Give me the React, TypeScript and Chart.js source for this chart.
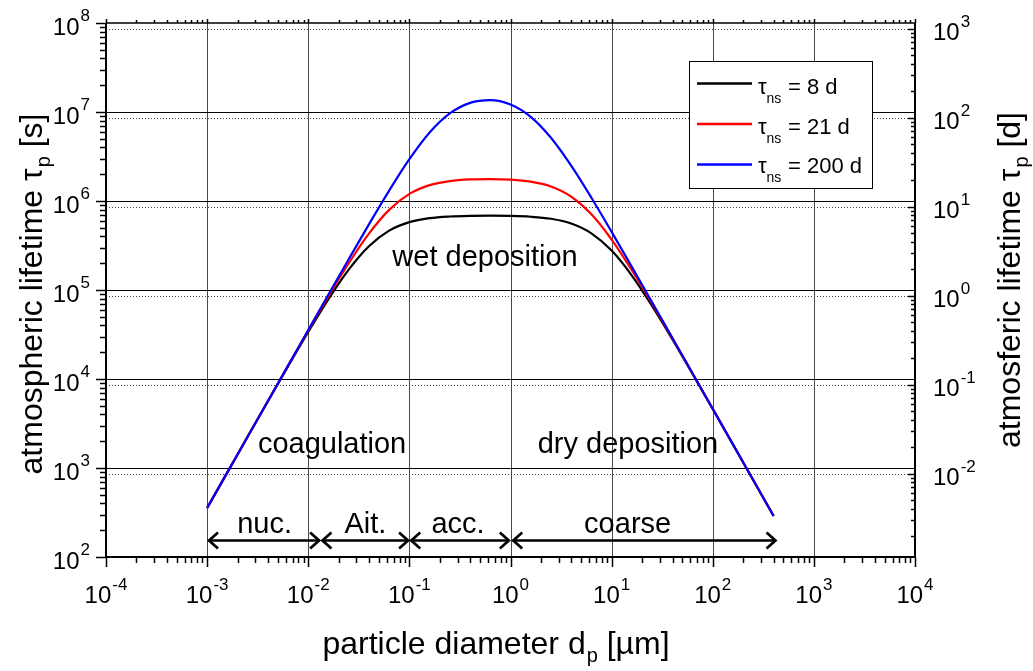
import React, { useEffect, useRef } from 'react';
import { Chart, registerables } from 'chart.js';

Chart.register(...registerables);

// particle diameter (µm)
const diameters = [
  0.001, 0.001585, 0.002512, 0.003981, 0.00631, 0.01, 0.01585, 0.02512, 0.03981, 0.0631,
  0.1, 0.1585, 0.2512, 0.3981, 0.631, 1, 1.585, 2.512, 3.981, 6.31,
  10, 15.85, 25.12, 39.81, 63.1, 100, 158.5, 251.2, 400,
];
// atmospheric lifetime (s), tau_ns = 8 d
const lifetime8d = [
  356, 892, 2237, 5591, 13874, 33820, 79110, 169400, 310460, 464450,
  578700, 641560, 669930, 681200, 683760, 679720, 665650, 631430, 558780, 433310,
  277050, 145350, 66257, 27990, 11422, 4593, 1836, 732, 289,
];
// tau_ns = 21 d
const lifetime21d = [
  356, 893, 2241, 5620, 14049, 34880, 85140, 199720, 430030, 795290,
  1201500, 1508300, 1675000, 1747400, 1764300, 1737600, 1648700, 1453500, 1118700, 708170,
  368490, 167110, 70437, 28710, 11541, 4612, 1840, 733, 289,
];
// tau_ns = 200 d
const lifetime200d = [
  356, 893, 2244, 5635, 14147, 35490, 88870, 221530, 545790, 1308600,
  2949000, 5889000, 9633000, 12652000, 13598000, 12149000, 8825000, 5134000, 2495700, 1088300,
  450330, 182120, 72971, 29122, 11606, 4623, 1841, 733, 289,
];
const seriesValues = [lifetime8d, lifetime21d, lifetime200d];
const seriesLabels = ['8 d', '21 d', '200 d'];
const seriesColors = ['#000000', '#ff0000', '#0000ff'];

// axis decades (exponents)
const xExponents = [-4, -3, -2, -1, 0, 1, 2, 3, 4];
const secondsExponents = [2, 3, 4, 5, 6, 7, 8];
const dayExponents = [-2, -1, 0, 1, 2, 3];
const SECONDS_PER_DAY = 86400;

// size-mode ranges (µm)
const modeLabels = ['nuc.', 'Ait.', 'acc.', 'coarse'];
const modeStart = [0.00102, 0.0135, 0.102, 1.04];
const modeEnd = [0.0131, 0.0993, 0.985, 427];
const modeLabelX = [0.0037, 0.0368, 0.303, 14.4];
const modeArrowY = 156; // s
const modeLabelY = 186; // s

// process annotations
const processLabels = ['wet deposition', 'coagulation', 'dry deposition'];
const processX = [0.56, 0.0172, 14.5];
const processY = [184000, 1476, 1476];

const FONT = '"Liberation Sans", Arial, Helvetica, sans-serif';

function powLabel(ctx: CanvasRenderingContext2D, exp: number, x: number, baseline: number, align: 'center' | 'right' | 'left') {
  const base = '10';
  const sup = String(exp);
  ctx.font = `24px ${FONT}`;
  const wb = ctx.measureText(base).width;
  ctx.font = `17px ${FONT}`;
  const ws = ctx.measureText(sup).width;
  const total = wb + 1 + ws;
  let start = x;
  if (align === 'center') start = x - total / 2;
  else if (align === 'right') start = x - total;
  ctx.textAlign = 'left';
  ctx.textBaseline = 'alphabetic';
  ctx.font = `24px ${FONT}`;
  ctx.fillText(base, start, baseline);
  ctx.font = `17px ${FONT}`;
  ctx.fillText(sup, start + wb + 1, baseline - 13.5);
}

function drawTitle(ctx: CanvasRenderingContext2D, main: string, sub: string, tail: string, cx: number, baseline: number) {
  ctx.font = `32px ${FONT}`;
  const w1 = ctx.measureText(main).width;
  const w3 = ctx.measureText(tail).width;
  ctx.font = `20px ${FONT}`;
  const w2 = ctx.measureText(sub).width;
  const total = w1 + 1 + w2 + w3;
  let x = cx - total / 2;
  ctx.textAlign = 'left';
  ctx.textBaseline = 'alphabetic';
  ctx.font = `32px ${FONT}`;
  ctx.fillText(main, x, baseline);
  x += w1 + 1;
  ctx.font = `20px ${FONT}`;
  ctx.fillText(sub, x, baseline + 8);
  x += w2;
  ctx.font = `32px ${FONT}`;
  ctx.fillText(tail, x, baseline);
}

const gridPlugin = {
  id: 'gridPlugin',
  beforeDatasetsDraw(chart: any) {
    const { ctx, chartArea: a } = chart;
    const xs = chart.scales.x;
    const ys = chart.scales.y;
    const ds = chart.scales.y2;
    ctx.save();
    ctx.lineWidth = 1;
    ctx.strokeStyle = '#4a4a4a';
    xExponents.forEach((e) => {
      if (e <= xExponents[0] || e >= xExponents[xExponents.length - 1]) return;
      const px = Math.round(xs.getPixelForValue(Math.pow(10, e))) + 0.5;
      ctx.beginPath();
      ctx.moveTo(px, a.top);
      ctx.lineTo(px, a.bottom);
      ctx.stroke();
    });
    ctx.strokeStyle = '#000';
    secondsExponents.forEach((e) => {
      if (e <= secondsExponents[0] || e >= secondsExponents[secondsExponents.length - 1]) return;
      const py = Math.round(ys.getPixelForValue(Math.pow(10, e))) + 0.5;
      ctx.beginPath();
      ctx.moveTo(a.left, py);
      ctx.lineTo(a.right, py);
      ctx.stroke();
    });
    ctx.setLineDash([1, 2]);
    ctx.strokeStyle = '#444';
    dayExponents.forEach((e) => {
      const py = Math.round(ds.getPixelForValue(Math.pow(10, e))) + 0.5;
      ctx.beginPath();
      ctx.moveTo(a.left, py);
      ctx.lineTo(a.right, py);
      ctx.stroke();
    });
    ctx.restore();
  },
};

const decorPlugin = {
  id: 'decorPlugin',
  afterDatasetsDraw(chart: any) {
    const { ctx, chartArea: a } = chart;
    const xs = chart.scales.x;
    const ys = chart.scales.y;
    const ds = chart.scales.y2;
    ctx.save();
    ctx.fillStyle = '#000';
    ctx.strokeStyle = '#000';

    // frame
    ctx.lineWidth = 2;
    ctx.beginPath();
    ctx.moveTo(a.left, a.top);
    ctx.lineTo(a.left, a.bottom);
    ctx.lineTo(a.right, a.bottom);
    ctx.lineTo(a.right, a.top);
    ctx.stroke();
    ctx.lineWidth = 1.5;
    ctx.beginPath();
    ctx.moveTo(a.left, a.top);
    ctx.lineTo(a.right, a.top);
    ctx.stroke();

    // x ticks (bottom out, top small)
    ctx.lineWidth = 1.5;
    for (let e = xExponents[0]; e <= xExponents[xExponents.length - 1]; e++) {
      for (let m = 1; m <= 9; m++) {
        if (e === xExponents[xExponents.length - 1] && m > 1) break;
        const px = Math.round(xs.getPixelForValue(m * Math.pow(10, e))) + 0.5;
        const major = m === 1;
        ctx.beginPath();
        ctx.moveTo(px, a.bottom);
        ctx.lineTo(px, a.bottom + (major ? 10 : 6));
        ctx.moveTo(px, a.top);
        ctx.lineTo(px, a.top - (major ? 4 : 3));
        ctx.stroke();
      }
    }
    // left ticks
    for (let e = secondsExponents[0]; e <= secondsExponents[secondsExponents.length - 1]; e++) {
      for (let m = 1; m <= 9; m++) {
        if (e === secondsExponents[secondsExponents.length - 1] && m > 1) break;
        const py = Math.round(ys.getPixelForValue(m * Math.pow(10, e))) + 0.5;
        const major = m === 1;
        ctx.beginPath();
        ctx.moveTo(a.left, py);
        ctx.lineTo(a.left - (major ? 10 : 6), py);
        ctx.stroke();
      }
    }
    // right ticks (days, inward)
    const dMin = ds.min;
    const dMax = ds.max;
    for (let e = -3; e <= 3; e++) {
      for (let m = 1; m <= 9; m++) {
        const v = m * Math.pow(10, e);
        if (v < dMin || v > dMax) continue;
        const py = Math.round(ds.getPixelForValue(v)) + 0.5;
        const major = m === 1;
        ctx.beginPath();
        ctx.moveTo(a.right, py);
        ctx.lineTo(a.right - (major ? 7 : 4), py);
        ctx.stroke();
      }
    }

    // tick labels
    xExponents.forEach((e) => {
      const px = xs.getPixelForValue(Math.pow(10, e));
      powLabel(ctx, e, px, a.bottom + 46, 'center');
    });
    secondsExponents.forEach((e) => {
      const py = ys.getPixelForValue(Math.pow(10, e));
      powLabel(ctx, e, 90, py + 11.7, 'right');
    });
    dayExponents.forEach((e) => {
      const py = ds.getPixelForValue(Math.pow(10, e));
      powLabel(ctx, e, 933, py + 11.7, 'left');
    });

    // axis titles
    drawTitle(ctx, 'particle diameter d', 'p', ' [µm]', 496, 654);
    ctx.save();
    ctx.translate(42, 294);
    ctx.rotate(-Math.PI / 2);
    drawTitle(ctx, 'atmospheric lifetime τ', 'p', ' [s]', 0, 0);
    ctx.restore();
    ctx.save();
    ctx.translate(1020, 280);
    ctx.rotate(-Math.PI / 2);
    drawTitle(ctx, 'atmosferic lifetime τ', 'p', ' [d]', 0, 0);
    ctx.restore();

    // process annotations
    ctx.font = `29px ${FONT}`;
    ctx.textAlign = 'center';
    ctx.textBaseline = 'alphabetic';
    processLabels.forEach((t, i) => {
      ctx.fillText(t, xs.getPixelForValue(processX[i]), ys.getPixelForValue(processY[i]));
    });

    // size modes with arrows
    const ay = Math.round(ys.getPixelForValue(modeArrowY)) + 0.5;
    const ly = ys.getPixelForValue(modeLabelY);
    ctx.lineWidth = 2.7;
    ctx.lineCap = 'butt';
    modeLabels.forEach((t, i) => {
      const x1 = xs.getPixelForValue(modeStart[i]);
      const x2 = xs.getPixelForValue(modeEnd[i]);
      ctx.beginPath();
      ctx.moveTo(x1 + 1, ay);
      ctx.lineTo(x2 - 1, ay);
      ctx.stroke();
      ctx.beginPath();
      ctx.moveTo(x1 + 10, ay - 8);
      ctx.lineTo(x1 + 1, ay);
      ctx.lineTo(x1 + 10, ay + 8);
      ctx.moveTo(x2 - 10, ay - 8);
      ctx.lineTo(x2 - 1, ay);
      ctx.lineTo(x2 - 10, ay + 8);
      ctx.stroke();
      ctx.font = `29px ${FONT}`;
      ctx.textAlign = 'center';
      ctx.fillText(t, xs.getPixelForValue(modeLabelX[i]), ly);
    });

    // legend
    const bx = 689.5, by = 61.5, bw = 183, bh = 127;
    ctx.fillStyle = '#fff';
    ctx.fillRect(bx, by, bw, bh);
    ctx.lineWidth = 1;
    ctx.strokeStyle = '#000';
    ctx.strokeRect(bx, by, bw, bh);
    seriesLabels.forEach((lab, i) => {
      const ly2 = 83.5 + 40.5 * i;
      ctx.strokeStyle = seriesColors[i];
      ctx.lineWidth = 2.5;
      ctx.beginPath();
      ctx.moveTo(697, ly2);
      ctx.lineTo(752, ly2);
      ctx.stroke();
      const base = 94 + 39.7 * i;
      ctx.fillStyle = '#000';
      ctx.textAlign = 'left';
      ctx.font = `22px ${FONT}`;
      ctx.fillText('τ', 758, base);
      ctx.font = `14px ${FONT}`;
      ctx.fillText('ns', 766.5, base + 9);
      ctx.font = `22px ${FONT}`;
      ctx.fillText('= ' + lab, 788, base);
    });

    ctx.restore();
  },
};

export default function App() {
  const ref = useRef<HTMLCanvasElement | null>(null);
  useEffect(() => {
    document.body.style.margin = '0';
    const canvas = ref.current;
    if (!canvas) return;
    const datasets = seriesValues.map((vals, i) => ({
      label: 'τns = ' + seriesLabels[i],
      data: diameters.map((d, j) => ({ x: d, y: vals[j] })),
      borderColor: seriesColors[i],
      backgroundColor: seriesColors[i],
      borderWidth: 2.2,
      pointRadius: 0,
      cubicInterpolationMode: 'monotone' as const,
      fill: false,
      order: seriesValues.length - 1 - i,
      xAxisID: 'x',
      yAxisID: 'y',
    }));
    const chart = new Chart(canvas, {
      type: 'line',
      data: { datasets },
      options: {
        responsive: false,
        animation: false,
        devicePixelRatio: 1,
        events: [],
        layout: { padding: { top: 23, left: 0, right: 0, bottom: 0 } },
        plugins: { legend: { display: false }, tooltip: { enabled: false }, title: { display: false } },
        scales: {
          x: {
            type: 'logarithmic',
            position: 'bottom',
            min: 1e-4,
            max: 1e4,
            ticks: { display: false },
            grid: { display: false },
            border: { display: false },
            afterFit: (s: any) => { s.height = 114; },
          },
          y: {
            type: 'logarithmic',
            position: 'left',
            min: 1e2,
            max: 1e8,
            ticks: { display: false },
            grid: { display: false },
            border: { display: false },
            afterFit: (s: any) => { s.width = 106; },
          },
          y2: {
            type: 'logarithmic',
            position: 'right',
            min: 1e2 / SECONDS_PER_DAY,
            max: 1e8 / SECONDS_PER_DAY,
            ticks: { display: false },
            grid: { display: false },
            border: { display: false },
            afterFit: (s: any) => { s.width = 118; },
          },
        },
      } as any,
      plugins: [gridPlugin, decorPlugin],
    });
    return () => chart.destroy();
  }, []);
  return (
    <div style={{ position: 'fixed', left: 0, top: 0, width: 1033, height: 671, background: '#fff' }}>
      <canvas ref={ref} width={1033} height={671} style={{ display: 'block', width: 1033, height: 671 }} />
    </div>
  );
}
